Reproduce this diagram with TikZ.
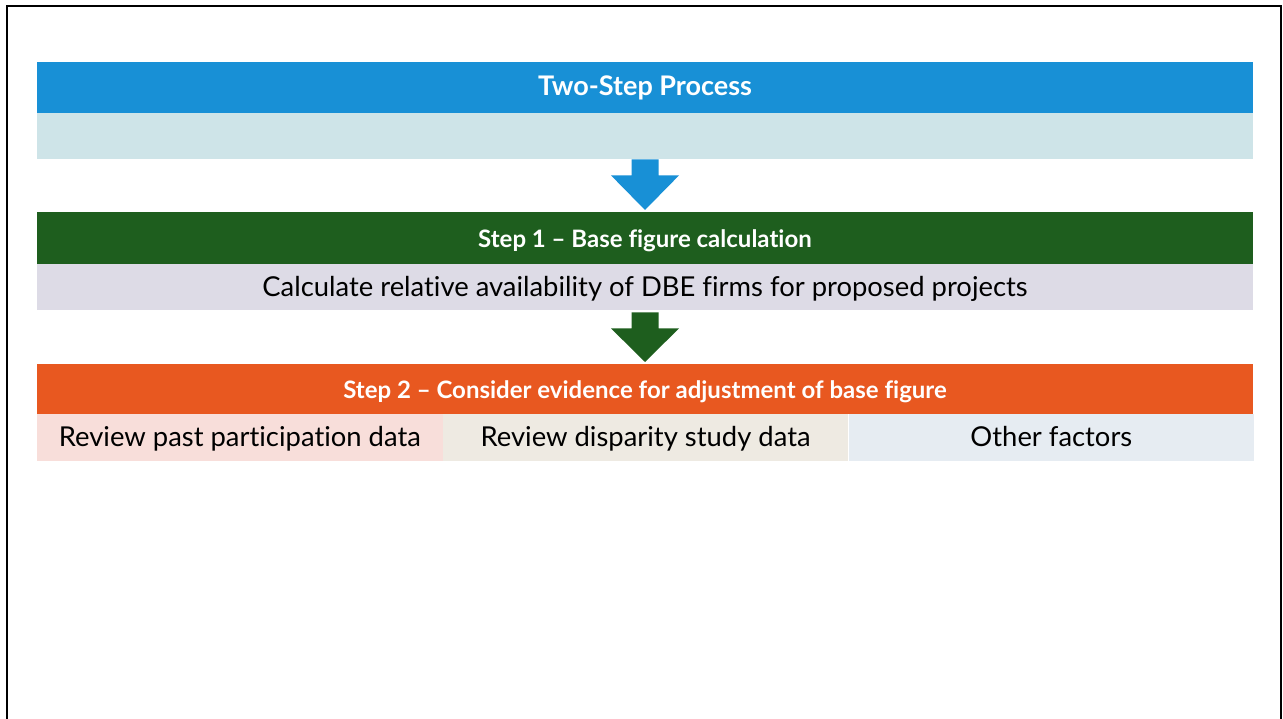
\documentclass[tikz,border=0pt]{standalone}
\usepackage{fontspec}
\setmainfont{Lato}[Ligatures={NoCommon}]
\usetikzlibrary{calc}
\definecolor{cblue}{RGB}{24,144,214}
\definecolor{cteal}{RGB}{206,228,232}
\definecolor{cgreen}{RGB}{30,94,30}
\definecolor{clav}{RGB}{221,219,230}
\definecolor{corange}{RGB}{232,88,32}
\definecolor{cpink}{RGB}{248,222,218}
\definecolor{cbeige}{RGB}{238,234,226}
\definecolor{cgrey}{RGB}{230,236,242}
\begin{document}
\begin{tikzpicture}[x=1pt,y=-1pt,
  bar/.style={draw=none,inner sep=0pt,minimum width=1216pt,anchor=north},
  head/.style={bar,text=white,font=\fontsize{24}{28}\selectfont\bfseries,text height=20pt,text depth=2pt},
  body/.style={bar,text=black,font=\fontsize{27.4}{30}\selectfont,text height=22pt,text depth=4pt},
  cell/.style={draw=none,inner sep=0pt,minimum width=405.33pt,minimum height=47pt,anchor=north west,text=black,font=\fontsize{27.4}{30}\selectfont,text height=22pt,text depth=4pt}]
\useasboundingbox (0,0) rectangle (1283,719);
\fill[white] (0,0) rectangle (1283,719);
\draw[line width=2pt,black] (7,719) -- (7,6) -- (1281,6) -- (1281,719);
% bars
\node[head,fill=cblue,minimum height=51pt,font=\fontsize{27}{30}\selectfont\bfseries,text height=20pt,text depth=4pt] (title) at (645,62) {Two-Step Process};
\node[bar,fill=cteal,minimum height=46pt] (sub) at (645,113) {};
\node[head,fill=cgreen,minimum height=52pt] (step1) at (645,212) {Step 1 – Base figure calculation};
\node[body,fill=clav,minimum height=46pt] (calc) at (645,264) {Calculate relative availability of DBE firms for proposed projects};
\node[head,fill=corange,minimum height=50pt] (step2) at (645,364) {Step 2 – Consider evidence for adjustment of base figure};
\node[cell,fill=cpink] (c1) at (37,414) {Review past participation data};
\node[cell,fill=cbeige] (c2) at (c1.north east) {Review disparity study data};
\node[cell,fill=cgrey] (c3) at (c2.north east) {Other factors};
% block arrows
\fill[cblue] ($(sub.south)+(-13.5,0)$) -- ($(sub.south)+(13.5,0)$) -- ($(sub.south)+(13.5,16)$) -- ($(sub.south)+(34,16)$) -- ($(step1.north)+(0,-2)$) -- ($(sub.south)+(-34,16)$) -- ($(sub.south)+(-13.5,16)$) -- cycle;
\fill[cgreen] ($(calc.south)+(-13.5,2)$) -- ($(calc.south)+(13.5,2)$) -- ($(calc.south)+(13.5,18)$) -- ($(calc.south)+(34,18)$) -- ($(step2.north)+(0,-2)$) -- ($(calc.south)+(-34,18)$) -- ($(calc.south)+(-13.5,18)$) -- cycle;
\end{tikzpicture}
\end{document}
